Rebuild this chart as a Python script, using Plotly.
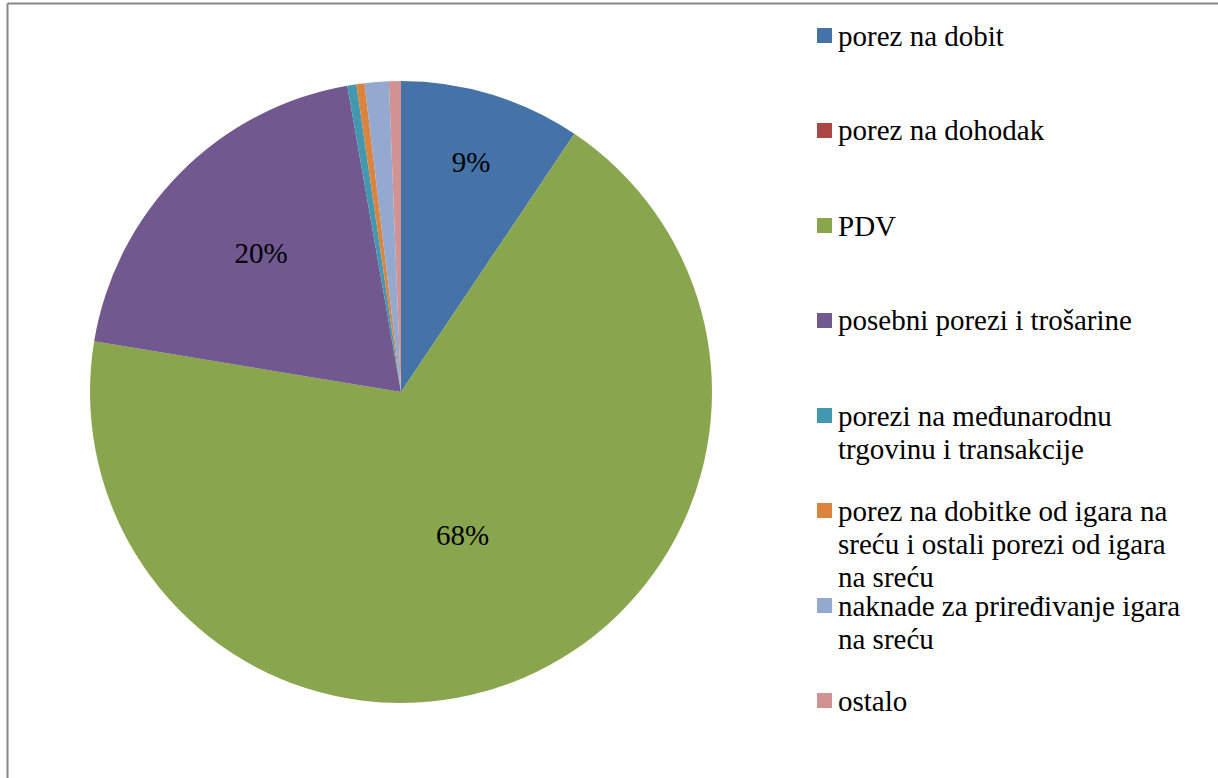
import plotly.graph_objects as go

# ---- data ----
labels = [
    "porez na dobit",
    "porez na dohodak",
    "PDV",
    "posebni porezi i trošarine",
    "porezi na međunarodnu trgovinu i transakcije",
    "porez na dobitke od igara na sreću i ostali porezi od igara na sreću",
    "naknade za priređivanje igara na sreću",
    "ostalo",
]
values = [9.4, 0.0, 68.1, 19.6, 0.47, 0.42, 1.25, 0.62]
colors = ["#4572A7", "#AA4643", "#89A54E", "#71588F",
          "#4198AF", "#DB843D", "#93A9CF", "#D19392"]
legend_lines = [
    ["porez na dobit"],
    ["porez na dohodak"],
    ["PDV"],
    ["posebni porezi i trošarine"],
    ["porezi na međunarodnu", "trgovinu i transakcije"],
    ["porez na dobitke od igara na", "sreću i ostali porezi od igara", "na sreću"],
    ["naknade za priređivanje igara", "na sreću"],
    ["ostalo"],
]

W, H = 1218, 778
FONT = "Liberation Serif"
FS = 29

total = sum(values)
texts = ["%{percent:.0%}" if v / total >= 0.05 else "" for v in values]

fig = go.Figure(go.Pie(
    labels=labels,
    values=values,
    sort=False,
    direction="clockwise",
    rotation=0,
    marker=dict(colors=colors, line=dict(width=0)),
    texttemplate=texts,
    textposition="inside",
    insidetextorientation="horizontal",
    textfont=dict(family=FONT, size=FS, color="black"),
    showlegend=False,
    hoverinfo="label+percent",
    domain=dict(x=[90 / W, 712 / W], y=[1 - 703 / H, 1 - 81 / H]),
))

# ---- manual legend (Excel-style evenly spaced) ----
shapes = []
annotations = []
first_y = 35.5
step = 95
line_gap = 33
for i, (lines, col) in enumerate(zip(legend_lines, colors)):
    yc = first_y + i * step
    shapes.append(dict(type="rect", xref="paper", yref="paper",
                       x0=817 / W, x1=832 / W,
                       y0=1 - (yc + 7.5) / H, y1=1 - (yc - 7.5) / H,
                       fillcolor=col, line=dict(width=0)))
    for j, ln in enumerate(lines):
        annotations.append(dict(text=ln, xref="paper", yref="paper",
                                x=836 / W, y=1 - (yc + j * line_gap) / H,
                                xanchor="left", yanchor="middle",
                                showarrow=False,
                                font=dict(family=FONT, size=FS, color="black")))

# chart border (top and left visible)
shapes.append(dict(type="line", xref="paper", yref="paper",
                   x0=7.5 / W, x1=1.0, y0=1 - 3.5 / H, y1=1 - 3.5 / H,
                   line=dict(color="#868686", width=2)))
shapes.append(dict(type="line", xref="paper", yref="paper",
                   x0=7.5 / W, x1=7.5 / W, y0=0, y1=1 - 3.5 / H,
                   line=dict(color="#868686", width=2)))

fig.update_layout(
    width=W, height=H,
    margin=dict(l=0, r=0, t=0, b=0),
    paper_bgcolor="white",
    plot_bgcolor="white",
    shapes=shapes,
    annotations=annotations,
    font=dict(family=FONT),
)

fig.write_html("out.html",
               config={"displayModeBar": False},
               post_script="document.body.style.margin='0';document.body.style.overflow='hidden';")
